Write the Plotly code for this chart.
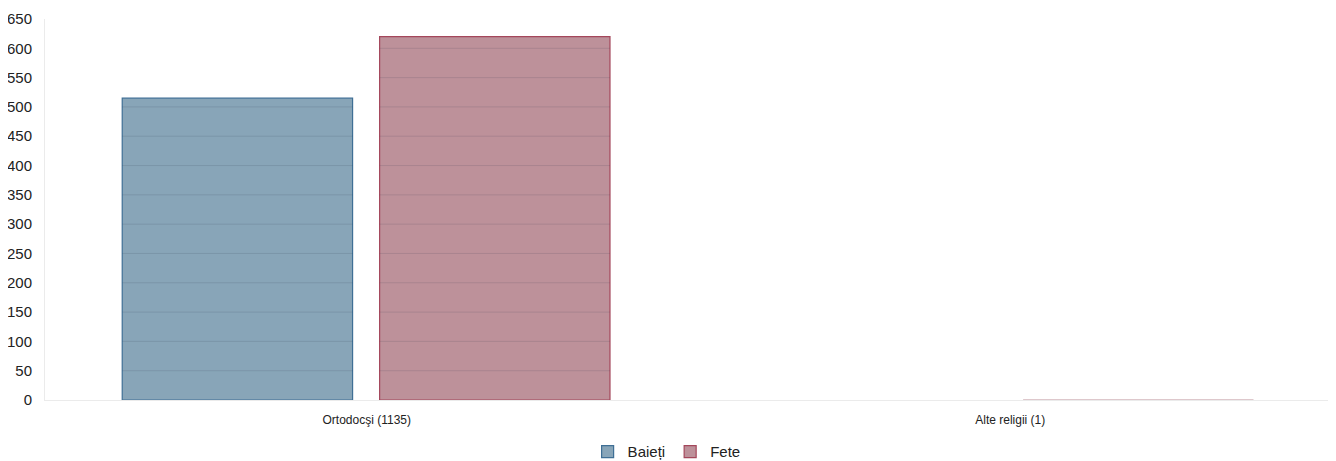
import plotly.graph_objects as go

categories = ["Ortodocşi (1135)", "Alte religii (1)"]
baieti = [515, 0]
fete = [620, 1]
y_ticks = list(range(0, 651, 50))

series = [
    ("Baieți", baieti, "rgba(120,152,174,0.88)", "#3f6f95", -0.38),
    ("Fete", fete, "rgba(180,130,140,0.88)", "#a4475b", 0.02),
]
bar_width = 0.358

fig = go.Figure()
shapes = []
for name, vals, fill, border, off in series:
    fig.add_trace(go.Bar(
        name=name, x=categories, y=vals,
        width=bar_width, offset=off,
        marker=dict(color=fill,
                    line=dict(color=border, width=[1.2 if v > 5 else 0 for v in vals])),
    ))
    for i, v in enumerate(vals):
        for t in y_ticks:
            if 0 < t < v:
                shapes.append(dict(
                    type="line", xref="x", yref="y",
                    x0=i + off, x1=i + off + bar_width, y0=t, y1=t,
                    line=dict(color="rgba(40,50,70,0.13)", width=1),
                    layer="above",
                ))

# page body has an 8px margin, so the figure is sized/offset accordingly
fig.update_layout(
    width=1328, height=453,
    margin=dict(l=37, r=4, t=11, b=61, autoexpand=False),
    paper_bgcolor="white", plot_bgcolor="white",
    font=dict(family="Liberation Sans, Arial, sans-serif", color="#222222"),
    barmode="overlay",
    shapes=shapes,
    showlegend=True,
    legend=dict(orientation="h", x=0.483, xanchor="center", y=-0.136, yanchor="middle",
                font=dict(size=15, color="#222222"), traceorder="normal"),
    xaxis=dict(showgrid=False, showline=True, linecolor="#ebebeb", linewidth=1,
               tickfont=dict(size=12, color="#222222"), ticks="", zeroline=False,
               ticklabelstandoff=9),
    yaxis=dict(range=[0, 650], tickvals=y_ticks, showgrid=False, zeroline=False,
               showline=True, linecolor="#ebebeb", linewidth=1,
               tickfont=dict(size=15, color="#222222"), ticks="", ticklabelstandoff=9),
)

fig.write_html("out.html")
